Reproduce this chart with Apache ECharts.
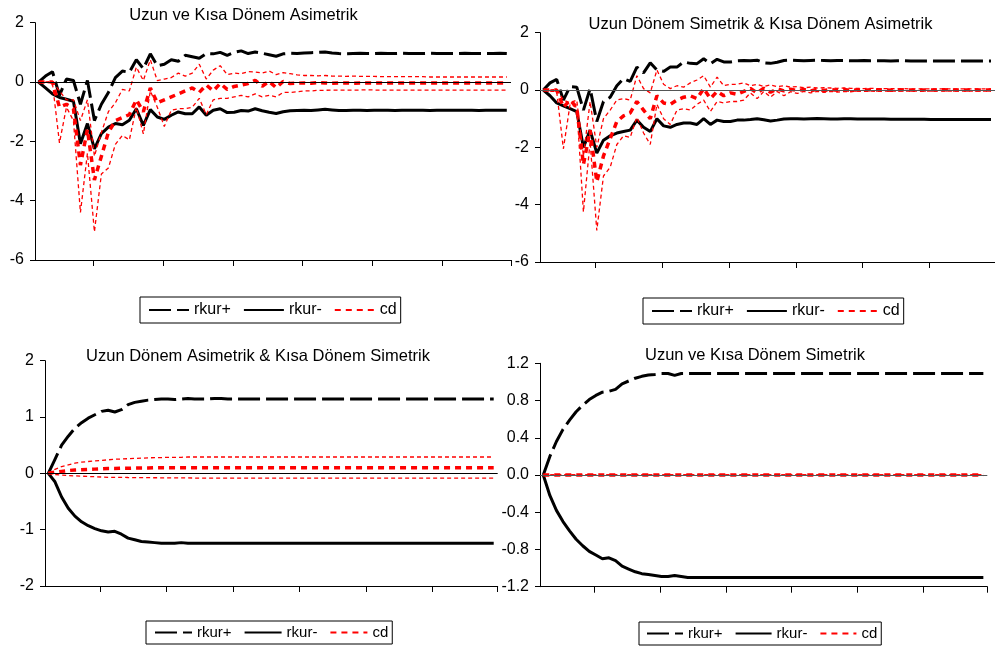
<!DOCTYPE html>
<html><head><meta charset="utf-8">
<script src="https://cdn.jsdelivr.net/npm/echarts@6/dist/echarts.min.js"></script>
<style>html,body{margin:0;padding:0;background:#fff}#c{width:995px;height:650px}</style>
</head><body><div id="c"></div>
<script>
// ---- texts ----
const titles = [
  'Uzun ve Kısa Dönem Asimetrik',
  'Uzun Dönem Simetrik & Kısa Dönem Asimetrik',
  'Uzun Dönem Asimetrik & Kısa Dönem Simetrik',
  'Uzun ve Kısa Dönem Simetrik'
];
const legendNames = ['rkur+', 'rkur-', 'cd'];
// horizon (period index) and tick positions
const periods = Array.from({length: 68}, (_, i) => i + 1);
const xTicks = [8.8, 18.8, 28.8, 38.8, 48.8, 58.8, 68.6];
// y-axis scales per panel
const yScaleA = {min: -6, max: 2, interval: 2};
const yScaleB = {min: -6, max: 2, interval: 2};
const yScaleC = {min: -2, max: 2, interval: 1};
const yScaleD = {min: -1.2, max: 1.2, interval: 0.4};

// ---- Panel A: Uzun ve Kısa Dönem Asimetrik ----
const A_rkurPos = [0, 0.2, 0.35, -0.45, 0.1, 0.05, -0.75, 0.05, -1.3, -0.75,
 -0.35, 0.15, 0.37, 0.33, 0.75, 0.45, 0.95, 0.55, 0.6, 0.75,
 0.7, 0.9, 0.85, 0.8, 0.96, 0.95, 1.0, 0.9, 1.0, 1.05,
 0.96, 1.01, 0.97, 0.92, 0.87, 0.95, 0.97, 0.96, 0.98, 0.99,
 1.0, 1.01, 0.98, 0.96, 0.95, 0.96, 0.97, 0.96, 0.96, 0.97,
 0.96, 0.96, 0.97, 0.96, 0.96, 0.96, 0.97, 0.96, 0.96, 0.96,
 0.96, 0.97, 0.96, 0.96, 0.96, 0.96, 0.97, 0.96];
const A_rkurNeg = [0, -0.2, -0.4, -0.52, -0.58, -0.65, -2.08, -1.4, -2.25, -1.74,
 -1.52, -1.4, -1.44, -1.29, -0.9, -1.46, -0.93, -1.18, -1.26, -1.12,
 -1.01, -1.07, -1.07, -0.84, -1.12, -0.95, -0.9, -1.03, -1.02, -0.96,
 -0.98, -0.9, -0.97, -1.02, -1.06, -1.0, -0.97, -0.96, -0.95, -0.96,
 -0.94, -0.92, -0.94, -0.96, -0.96, -0.95, -0.95, -0.96, -0.95, -0.95,
 -0.95, -0.96, -0.95, -0.95, -0.95, -0.95, -0.96, -0.95, -0.95, -0.95,
 -0.95, -0.95, -0.95, -0.96, -0.95, -0.95, -0.95, -0.95];
const A_cd = [0, 0, 0, -0.85, -0.75, -0.9, -2.8, -1.6, -3.3, -2.5,
 -1.7, -1.3, -1.2, -1.1, -0.6, -1.0, -0.2, -0.7, -0.6, -0.5,
 -0.4, -0.3, -0.2, -0.35, -0.1, -0.3, -0.05, -0.25, -0.15, -0.1,
 -0.05, 0.06, -0.14, 0.02, -0.19, 0.02, -0.05, -0.04, -0.03, -0.04,
 -0.02, -0.03, -0.04, -0.03, -0.03, -0.04, -0.03, -0.03, -0.03, -0.03,
 -0.03, -0.03, -0.03, -0.03, -0.03, -0.03, -0.03, -0.03, -0.03, -0.03,
 -0.03, -0.03, -0.03, -0.03, -0.03, -0.03, -0.03, -0.03];
const A_up = [0, 0, 0.02, -0.3, -0.6, -0.6, -1.3, -0.6, -2.5, -1.7,
 -1.0, -0.7, -0.25, -0.3, 0.5, 0.05, 0.75, 0.05, 0.1, 0.15,
 0.3, 0.2, 0.3, 0.6, 0.1, 0.4, 0.55, 0.25, 0.3, 0.28,
 0.35, 0.34, 0.3, 0.37, 0.25, 0.32, 0.28, 0.24, 0.22, 0.22,
 0.21, 0.22, 0.2, 0.2, 0.19, 0.2, 0.19, 0.19, 0.19, 0.18,
 0.18, 0.18, 0.18, 0.18, 0.18, 0.18, 0.17, 0.17, 0.17, 0.17,
 0.17, 0.17, 0.17, 0.17, 0.17, 0.17, 0.17, 0.17];
const A_lo = [0, 0, -0.05, -2.05, -0.85, -1.3, -4.4, -2.4, -5.05, -3.1,
 -2.9, -2.1, -1.8, -1.95, -0.85, -1.75, -0.3, -0.85, -1.5, -0.95,
 -0.9, -0.9, -0.85, -0.55, -1.1, -0.6, -0.55, -0.55, -0.5, -0.45,
 -0.5, -0.4, -0.5, -0.45, -0.5, -0.35, -0.35, -0.33, -0.3, -0.3,
 -0.28, -0.28, -0.27, -0.27, -0.27, -0.27, -0.27, -0.26, -0.27, -0.27,
 -0.27, -0.27, -0.27, -0.27, -0.27, -0.27, -0.27, -0.27, -0.27, -0.27,
 -0.27, -0.27, -0.27, -0.27, -0.27, -0.27, -0.27, -0.27];

// ---- Panel B: Uzun Dönem Simetrik & Kısa Dönem Asimetrik ----
const B_rkurPos = [0, 0.25, 0.37, -0.35, 0.12, 0.1, -0.7, 0.05, -1.1, -0.4,
 -0.25, 0.15, 0.4, 0.3, 0.8, 0.6, 0.95, 0.7, 0.65, 0.8,
 0.8, 0.98, 0.93, 0.92, 1.09, 0.92, 1.07, 0.98, 0.98, 1.02,
 1.03, 1.02, 1.04, 0.95, 0.93, 0.97, 1.03, 1.04, 1.03, 1.02,
 1.03, 1.04, 1.03, 1.02, 1.03, 1.03, 1.02, 1.02, 1.03, 1.02,
 1.02, 1.02, 1.01, 1.02, 1.02, 1.01, 1.01, 1.01, 1.01, 1.01,
 1.01, 1.01, 1.01, 1.01, 1.01, 1.01, 1.01, 1.01];
const B_rkurNeg = [0, -0.2, -0.45, -0.55, -0.65, -0.75, -2.0, -1.4, -2.2, -1.75,
 -1.6, -1.5, -1.45, -1.4, -1.05, -1.3, -1.45, -1.0, -1.25, -1.3,
 -1.2, -1.15, -1.15, -1.2, -1.0, -1.2, -1.05, -1.1, -1.1, -1.05,
 -1.05, -1.03, -1.0, -1.04, -1.08, -1.05, -1.01, -1.0, -1.0, -1.01,
 -1.0, -0.99, -1.0, -1.01, -1.01, -1.0, -1.0, -1.01, -1.01, -1.01,
 -1.01, -1.01, -1.02, -1.02, -1.02, -1.02, -1.02, -1.02, -1.03, -1.03,
 -1.03, -1.03, -1.03, -1.03, -1.03, -1.03, -1.03, -1.03];
const B_cd = [0, 0, 0, -0.6, -0.35, -0.6, -2.6, -1.4, -3.2, -2.3,
 -1.7, -1.1, -0.9, -0.8, -0.4, -0.7, -1.0, -0.2, -0.45, -0.5,
 -0.35, -0.25, -0.2, -0.3, 0.05, -0.3, -0.05, -0.2, -0.1, -0.15,
 -0.05, 0.05, -0.1, 0.06, -0.08, 0.04, -0.03, 0.03, -0.02, 0.02,
 -0.03, 0.03, -0.02, 0.02, -0.01, 0.02, -0.02, 0.01, -0.01, 0.01,
 0, 0.01, -0.01, 0, 0.01, 0, -0.01, 0, 0, 0,
 0.01, 0, 0, 0, 0, 0, 0, 0];
const B_up = [0, 0, 0.02, -0.35, -0.45, -0.35, -2.3, -0.4, -2.0, -1.0,
 -0.7, -0.35, -0.3, -0.35, 0.5, 0.05, -0.1, 0.7, 0.2, 0.05,
 0.15, 0.1, 0.25, 0.35, 0.5, 0.1, 0.45, 0.15, 0.2, 0.2,
 0.25, 0.15, 0.2, 0.12, 0.18, 0.12, 0.15, 0.1, 0.12, 0.08,
 0.1, 0.07, 0.08, 0.07, 0.06, 0.07, 0.06, 0.06, 0.05, 0.06,
 0.05, 0.05, 0.05, 0.04, 0.05, 0.04, 0.04, 0.04, 0.04, 0.04,
 0.04, 0.04, 0.04, 0.04, 0.04, 0.04, 0.04, 0.04];
const B_lo = [0, -0.05, -0.05, -2.05, -0.5, -0.6, -4.25, -1.8, -4.9, -3.0,
 -2.7, -1.9, -1.6, -1.65, -0.95, -1.5, -1.9, -0.5, -1.0, -1.2,
 -0.7, -0.65, -0.7, -0.5, -0.35, -0.75, -0.4, -0.45, -0.4, -0.4,
 -0.35, -0.1, -0.3, -0.05, -0.25, -0.05, -0.2, -0.06, -0.12, -0.05,
 -0.1, -0.05, -0.08, -0.05, -0.07, -0.05, -0.06, -0.04, -0.05, -0.04,
 -0.05, -0.04, -0.04, -0.04, -0.04, -0.04, -0.04, -0.04, -0.04, -0.04,
 -0.04, -0.04, -0.04, -0.04, -0.04, -0.04, -0.04, -0.04];

// ---- Panel C: Uzun Dönem Asimetrik & Kısa Dönem Simetrik ----
const C_rkurPos = [0, 0.25, 0.5, 0.66, 0.8, 0.9, 0.98, 1.04, 1.1, 1.12,
 1.09, 1.13, 1.22, 1.26, 1.28, 1.3, 1.31, 1.32, 1.32, 1.31,
 1.32, 1.33, 1.32, 1.32, 1.32, 1.33, 1.33, 1.32, 1.32, 1.32,
 1.32, 1.32, 1.32, 1.32, 1.32, 1.32, 1.32, 1.32, 1.32, 1.32,
 1.32, 1.32, 1.32, 1.32, 1.32, 1.32, 1.32, 1.32, 1.32, 1.32,
 1.32, 1.32, 1.32, 1.32, 1.32, 1.32, 1.32, 1.32, 1.32, 1.32,
 1.32, 1.32, 1.32, 1.32, 1.32, 1.32, 1.32, 1.32];
const C_rkurNeg = [0, -0.15, -0.42, -0.62, -0.76, -0.86, -0.93, -0.98, -1.02, -1.04,
 -1.03, -1.08, -1.15, -1.18, -1.21, -1.22, -1.23, -1.24, -1.24, -1.24,
 -1.23, -1.24, -1.24, -1.24, -1.24, -1.24, -1.24, -1.24, -1.24, -1.24,
 -1.24, -1.24, -1.24, -1.24, -1.24, -1.24, -1.24, -1.24, -1.24, -1.24,
 -1.24, -1.24, -1.24, -1.24, -1.24, -1.24, -1.24, -1.24, -1.24, -1.24,
 -1.24, -1.24, -1.24, -1.24, -1.24, -1.24, -1.24, -1.24, -1.24, -1.24,
 -1.24, -1.24, -1.24, -1.24, -1.24, -1.24, -1.24, -1.24];
const C_cd = [0, 0.02, 0.035, 0.05, 0.06, 0.065, 0.07, 0.075, 0.08, 0.085,
 0.085, 0.09, 0.09, 0.095, 0.095, 0.095, 0.1, 0.1, 0.1, 0.1,
 0.1, 0.1, 0.1, 0.1, 0.1, 0.1, 0.1, 0.1, 0.1, 0.1,
 0.1, 0.1, 0.1, 0.1, 0.1, 0.1, 0.1, 0.1, 0.1, 0.1,
 0.1, 0.1, 0.1, 0.1, 0.1, 0.1, 0.1, 0.1, 0.1, 0.1,
 0.1, 0.1, 0.1, 0.1, 0.1, 0.1, 0.1, 0.1, 0.1, 0.1,
 0.1, 0.1, 0.1, 0.1, 0.1, 0.1, 0.1, 0.1];
const C_up = [0, 0.07, 0.12, 0.15, 0.18, 0.2, 0.21, 0.22, 0.23, 0.24,
 0.25, 0.255, 0.26, 0.265, 0.27, 0.275, 0.28, 0.28, 0.285, 0.285,
 0.285, 0.29, 0.29, 0.29, 0.29, 0.29, 0.29, 0.29, 0.29, 0.29,
 0.29, 0.29, 0.29, 0.29, 0.29, 0.29, 0.29, 0.29, 0.29, 0.29,
 0.29, 0.29, 0.29, 0.29, 0.29, 0.29, 0.29, 0.29, 0.29, 0.29,
 0.29, 0.29, 0.29, 0.29, 0.29, 0.29, 0.29, 0.29, 0.29, 0.29,
 0.29, 0.29, 0.29, 0.29, 0.29, 0.29, 0.29, 0.29];
const C_lo = [0, -0.02, -0.03, -0.04, -0.045, -0.05, -0.055, -0.06, -0.065, -0.07,
 -0.07, -0.072, -0.074, -0.075, -0.076, -0.077, -0.078, -0.079, -0.08, -0.08,
 -0.08, -0.082, -0.083, -0.084, -0.085, -0.085, -0.085, -0.085, -0.085, -0.085,
 -0.085, -0.085, -0.085, -0.085, -0.085, -0.085, -0.085, -0.085, -0.085, -0.085,
 -0.085, -0.085, -0.085, -0.085, -0.085, -0.085, -0.085, -0.085, -0.085, -0.085,
 -0.085, -0.085, -0.085, -0.085, -0.085, -0.085, -0.085, -0.085, -0.085, -0.085,
 -0.085, -0.085, -0.085, -0.085, -0.085, -0.085, -0.085, -0.085];

// ---- Panel D: Uzun ve Kısa Dönem Simetrik ----
const D_rkurPos = [0, 0.2, 0.36, 0.49, 0.59, 0.68, 0.75, 0.81, 0.855, 0.89,
 0.9, 0.92, 0.98, 1.01, 1.04, 1.06, 1.075, 1.08, 1.09, 1.09,
 1.07, 1.09, 1.09, 1.09, 1.09, 1.09, 1.09, 1.09, 1.09, 1.09,
 1.09, 1.09, 1.09, 1.09, 1.09, 1.09, 1.09, 1.09, 1.09, 1.09,
 1.09, 1.09, 1.09, 1.09, 1.09, 1.09, 1.09, 1.09, 1.09, 1.09,
 1.09, 1.09, 1.09, 1.09, 1.09, 1.09, 1.09, 1.09, 1.09, 1.09,
 1.09, 1.09, 1.09, 1.09, 1.09, 1.09, 1.09, 1.09];
const D_rkurNeg = [0, -0.22, -0.38, -0.5, -0.6, -0.69, -0.76, -0.82, -0.86, -0.9,
 -0.89, -0.92, -0.98, -1.01, -1.04, -1.06, -1.07, -1.08, -1.09, -1.09,
 -1.08, -1.09, -1.1, -1.1, -1.1, -1.1, -1.1, -1.1, -1.1, -1.1,
 -1.1, -1.1, -1.1, -1.1, -1.1, -1.1, -1.1, -1.1, -1.1, -1.1,
 -1.1, -1.1, -1.1, -1.1, -1.1, -1.1, -1.1, -1.1, -1.1, -1.1,
 -1.1, -1.1, -1.1, -1.1, -1.1, -1.1, -1.1, -1.1, -1.1, -1.1,
 -1.1, -1.1, -1.1, -1.1, -1.1, -1.1, -1.1, -1.1];
const D_cd = [0, 0, 0, 0, 0, 0, 0, 0, 0, 0,
 0, 0, 0, 0, 0, 0, 0, 0, 0, 0,
 0, 0, 0, 0, 0, 0, 0, 0, 0, 0,
 0, 0, 0, 0, 0, 0, 0, 0, 0, 0,
 0, 0, 0, 0, 0, 0, 0, 0, 0, 0,
 0, 0, 0, 0, 0, 0, 0, 0, 0, 0,
 0, 0, 0, 0, 0, 0, 0, 0];
const D_up = [0, 0, 0, 0, 0, 0, 0, 0, 0, 0,
 0, 0, 0, 0, 0, 0, 0, 0, 0, 0,
 0, 0, 0, 0, 0, 0, 0, 0, 0, 0,
 0, 0, 0, 0, 0, 0, 0, 0, 0, 0,
 0, 0, 0, 0, 0, 0, 0, 0, 0, 0,
 0, 0, 0, 0, 0, 0, 0, 0, 0, 0,
 0, 0, 0, 0, 0, 0, 0, 0];
const D_lo = [0, 0, 0, 0, 0, 0, 0, 0, 0, 0,
 0, 0, 0, 0, 0, 0, 0, 0, 0, 0,
 0, 0, 0, 0, 0, 0, 0, 0, 0, 0,
 0, 0, 0, 0, 0, 0, 0, 0, 0, 0,
 0, 0, 0, 0, 0, 0, 0, 0, 0, 0,
 0, 0, 0, 0, 0, 0, 0, 0, 0, 0,
 0, 0, 0, 0, 0, 0, 0, 0];

// ---- build chart ----
const FONT = '"Liberation Sans", Arial, sans-serif';
const panels = [
  {pos: A_rkurPos, neg: A_rkurNeg, cd: A_cd, up: A_up, lo: A_lo, y: yScaleA, dec: 0, zero: '#000',
   grid: {left: 35, top: 22.7, width: 476, height: 237.3},
   title: {x: 243.5, y: 15}, legend: {left: 140, top: 297, iw: 40, fs: 16, pad: [5, 4, 5, 8]}},
  {pos: B_rkurPos, neg: B_rkurNeg, cd: B_cd, up: B_up, lo: B_lo, y: yScaleB, dec: 0, zero: '#555',
   grid: {left: 540, top: 32.7, width: 460, height: 229.3},
   title: {x: 760.5, y: 24}, legend: {left: 643, top: 298, iw: 40, fs: 16, pad: [5, 4, 5, 8]}},
  {pos: C_rkurPos, neg: C_rkurNeg, cd: C_cd, up: C_up, lo: C_lo, y: yScaleC, dec: 0, zero: '#000',
   grid: {left: 45, top: 360.7, width: 452.7, height: 225.3},
   title: {x: 258, y: 356.5}, legend: {left: 146, top: 621, iw: 37, fs: 15, pad: [4, 4, 4, 8]}},
  {pos: D_rkurPos, neg: D_rkurNeg, cd: D_cd, up: D_up, lo: D_lo, y: yScaleD, dec: 1, zero: '#555',
   grid: {left: 540, top: 363.3, width: 447.3, height: 223.4},
   title: {x: 755, y: 355}, legend: {left: 639, top: 622, iw: 36, fs: 15, pad: [4, 4, 4, 7]}}
];

const pairs = arr => arr.map((v, i) => [periods[i], v]);

const option = {
  animation: false,
  backgroundColor: '#fff',
  grid: [], xAxis: [], yAxis: [], series: [], legend: [], graphic: []
};

panels.forEach((p, k) => {
  option.grid.push(Object.assign({containLabel: false}, p.grid));
  option.xAxis.push({
    type: 'value', gridIndex: k, min: 0.5, max: 68.6,
    axisLine: {show: true, onZero: false, lineStyle: {color: '#000', width: 1}},
    axisTick: {show: true, inside: false, length: 6, customValues: xTicks, lineStyle: {color: '#000', width: 1}},
    axisLabel: {show: false}, splitLine: {show: false}
  });
  option.yAxis.push({
    type: 'value', gridIndex: k, min: p.y.min, max: p.y.max, interval: p.y.interval,
    axisLine: {show: true, onZero: false, lineStyle: {color: '#000', width: 1}},
    axisTick: {show: true, inside: false, length: 5, lineStyle: {color: '#000', width: 1}},
    axisLabel: {show: true, margin: 11, color: '#000', fontSize: 16, fontFamily: FONT,
      formatter: v => p.dec ? v.toFixed(1) : String(Math.round(v))},
    splitLine: {show: false}
  });
  const base = {type: 'line', xAxisIndex: k, yAxisIndex: k, symbol: 'none', showSymbol: false,
    smooth: false, animation: false, emphasis: {disabled: true}, silent: true};
  option.series.push(Object.assign({}, base, {
    name: 'rkur+', z: 1, data: pairs(p.pos),
    lineStyle: {color: '#000', width: 3, type: [22, 6]}, itemStyle: {color: '#000'},
    markLine: {silent: true, symbol: ['none', 'none'], label: {show: false}, animation: false,
      emphasis: {disabled: true},
      lineStyle: {color: p.zero, width: 1, type: 'solid'}, data: [{yAxis: 0}]}
  }));
  option.series.push(Object.assign({}, base, {
    name: 'rkur-', z: 2, data: pairs(p.neg),
    lineStyle: {color: '#000', width: 3, type: 'solid'}, itemStyle: {color: '#000'}
  }));
  option.series.push(Object.assign({}, base, {
    name: 'cd alt', z: 3, data: pairs(p.lo),
    lineStyle: {color: '#ff0000', width: 1.3, type: [4, 3]}, itemStyle: {color: '#ff0000'}
  }));
  option.series.push(Object.assign({}, base, {
    name: 'cd üst', z: 3, data: pairs(p.up),
    lineStyle: {color: '#ff0000', width: 1.3, type: [4, 3]}, itemStyle: {color: '#ff0000'}
  }));
  option.series.push(Object.assign({}, base, {
    name: 'cd', z: 4, data: pairs(p.cd),
    lineStyle: {color: '#ff0000', width: 3.5, type: [6, 5]}, itemStyle: {color: '#ff0000'}
  }));
  option.legend.push({
    data: legendNames, left: p.legend.left, top: p.legend.top, orient: 'horizontal',
    itemWidth: p.legend.iw, itemHeight: 14, itemGap: 12, padding: p.legend.pad,
    borderColor: '#000', borderWidth: 1, borderRadius: 0, selectedMode: false,
    itemStyle: {opacity: 0, borderWidth: 0},
    textStyle: {color: '#000', fontSize: p.legend.fs, fontFamily: FONT}
  });
  option.graphic.push({
    type: 'text', x: p.title.x, y: p.title.y, silent: true,
    style: {text: titles[k], fill: '#000', font: '16.5px ' + FONT,
      align: 'center', textAlign: 'center', verticalAlign: 'middle', textVerticalAlign: 'middle'}
  });
});

const chart = echarts.init(document.getElementById('c'), null, {renderer: 'canvas'});
chart.setOption(option);
</script>
</body></html>
